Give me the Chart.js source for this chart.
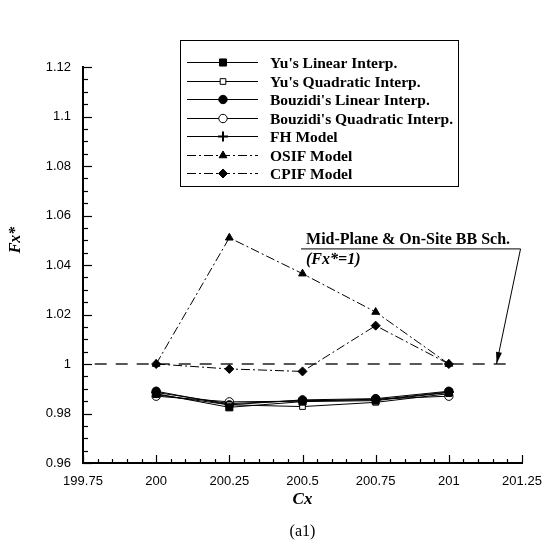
<!DOCTYPE html>
<html lang="en">
<head>
    <meta charset="UTF-8">
    <title>Fx* vs Cx</title>
    <style>
        body { margin: 0; background: #fff; }
        #fxChart { display: block; }
    </style>
</head>
<body>
    <canvas id="fxChart" width="548" height="546"></canvas>

    <script src="https://cdn.jsdelivr.net/npm/chart.js"></script>
    <script>
        // Cx positions and Fx* values for each scheme
        const cx = [200, 200.25, 200.5, 200.75, 201];
        const yuLinear = [0.988, 0.9825, 0.9848, 0.9852, 0.9885];
        const yuQuadratic = [0.9876, 0.9835, 0.9828, 0.9845, 0.988];
        const bouzidiLinear = [0.989, 0.9835, 0.9855, 0.986, 0.989];
        const bouzidiQuadratic = [0.987, 0.9847, 0.985, 0.9858, 0.987];
        const fhModel = [0.9885, 0.984, 0.9852, 0.9855, 0.9887];
        const osifModel = [1.0, 1.051, 1.0365, 1.021, 1.0];
        const cpifModel = [1.0, 0.998, 0.997, 1.0155, 1.0];

        const xTicks = [199.75, 200, 200.25, 200.5, 200.75, 201, 201.25];
        const yTicks = [0.96, 0.98, 1, 1.02, 1.04, 1.06, 1.08, 1.1, 1.12];
        const refLineX = [199.79, 201.22];
        const refLineY = 1;

        const legendNames = [
            "Yu's Linear Interp.",
            "Yu's Quadratic Interp.",
            "Bouzidi's Linear Interp.",
            "Bouzidi's Quadratic Interp.",
            "FH Model",
            "OSIF Model",
            "CPIF Model"
        ];

        const dashDot = [9, 3, 2, 3];

        function pts(ys) {
            return cx.map((x, i) => ({ x: x, y: ys[i] }));
        }

        function series(label, ys, style, radius, filled, dash) {
            return {
                label: label,
                data: pts(ys),
                borderColor: '#000',
                borderWidth: 1,
                borderDash: dash || [],
                pointStyle: style,
                pointRadius: radius,
                pointBorderWidth: style === 'cross' ? 2 : 1,
                pointBorderColor: '#000',
                pointBackgroundColor: filled ? '#000' : '#fff',
                fill: false,
                tension: 0
            };
        }

        const datasets = [
            series(legendNames[0], yuLinear, 'rect', 5, true),
            series(legendNames[1], yuQuadratic, 'rect', 4, false),
            series(legendNames[2], bouzidiLinear, 'circle', 4.2, true),
            series(legendNames[3], bouzidiQuadratic, 'circle', 4.2, false),
            series(legendNames[4], fhModel, 'cross', 5, false),
            series(legendNames[5], osifModel, 'triangle', 4.5, true, dashDot),
            series(legendNames[6], cpifModel, 'rectRot', 4.5, true, dashDot),
            {
                label: 'ref',
                data: refLineX.map(x => ({ x: x, y: refLineY })),
                borderColor: '#222',
                borderWidth: 1.6,
                borderDash: [12, 9],
                pointRadius: 0,
                fill: false
            }
        ];

        function fmt(v) {
            return String(+v.toFixed(2));
        }

        // Inward ticks, titles, boxed legend and the Fx*=1 callout
        const decorations = {
            id: 'decorations',
            afterDraw(chart) {
                const ctx = chart.ctx;
                const xs = chart.scales.x;
                const ys = chart.scales.y;
                const area = chart.chartArea;
                ctx.save();
                ctx.strokeStyle = '#000';
                ctx.fillStyle = '#000';

                // x ticks, pointing up into the plot
                ctx.lineWidth = 1.2;
                for (let k = 0; k <= 30; k++) {
                    const v = 199.75 + k * 0.05;
                    const px = Math.round(xs.getPixelForValue(v)) + 0.5;
                    const len = (k % 5 === 0) ? 8 : 4;
                    ctx.beginPath();
                    ctx.moveTo(px, area.bottom);
                    ctx.lineTo(px, area.bottom - len);
                    ctx.stroke();
                }
                // y ticks, pointing right into the plot
                for (let k = 0; k <= 32; k++) {
                    const v = 0.96 + k * 0.005;
                    const py = Math.round(ys.getPixelForValue(v)) + 0.5;
                    const len = (k % 4 === 0) ? 9 : 5;
                    ctx.beginPath();
                    ctx.moveTo(area.left, py);
                    ctx.lineTo(area.left + len, py);
                    ctx.stroke();
                }

                // axis titles and caption
                ctx.textAlign = 'center';
                ctx.textBaseline = 'middle';
                ctx.font = 'italic bold 17px "Liberation Serif"';
                ctx.fillText('Cx', (area.left + area.right) / 2, 500);
                ctx.save();
                ctx.translate(16, 240);
                ctx.rotate(-Math.PI / 2);
                ctx.font = 'italic bold 16px "Liberation Serif"';
                ctx.fillText('Fx*', 0, 0);
                ctx.restore();
                ctx.font = '16px "Liberation Serif"';
                ctx.fillText('(a1)', (area.left + area.right) / 2, 532);

                // legend box
                const lx = 180, ly = 40, lw = 278, lh = 146;
                ctx.lineWidth = 1;
                ctx.strokeRect(lx + 0.5, ly + 0.5, lw, lh);
                ctx.textAlign = 'left';
                ctx.font = 'bold 15.5px "Liberation Serif"';
                for (let i = 0; i < legendNames.length; i++) {
                    const ds = datasets[i];
                    const ry = Math.round(62 + i * 18.5) + 0.5;
                    ctx.save();
                    ctx.lineWidth = 1;
                    ctx.setLineDash(ds.borderDash);
                    ctx.beginPath();
                    ctx.moveTo(187, ry);
                    ctx.lineTo(258, ry);
                    ctx.stroke();
                    ctx.restore();
                    ctx.save();
                    ctx.fillStyle = ds.pointBackgroundColor;
                    ctx.strokeStyle = '#000';
                    ctx.lineWidth = ds.pointBorderWidth;
                    Chart.helpers.drawPoint(ctx, {
                        pointStyle: ds.pointStyle,
                        radius: ds.pointRadius,
                        rotation: 0,
                        borderWidth: ds.pointBorderWidth
                    }, 223, ry);
                    ctx.restore();
                    ctx.fillText(ds.label, 270, ry + 1);
                }

                // callout for the reference line
                const ux0 = xs.getPixelForValue(200.495);
                const ux1 = xs.getPixelForValue(201.245);
                const uy = ys.getPixelForValue(1.0465);
                ctx.font = 'bold 16px "Liberation Serif"';
                ctx.textBaseline = 'alphabetic';
                ctx.fillText('Mid-Plane & On-Site BB Sch.', ux0 + 5, uy - 5);
                ctx.font = 'italic bold 16px "Liberation Serif"';
                ctx.fillText('(Fx*=1)', ux0 + 5, uy + 15);
                ctx.lineWidth = 1;
                ctx.beginPath();
                ctx.moveTo(ux0, uy);
                ctx.lineTo(ux1, uy);
                const tipX = xs.getPixelForValue(201.163);
                const tipY = ys.getPixelForValue(refLineY);
                ctx.lineTo(tipX, tipY);
                ctx.stroke();
                // arrow head
                const ang = Math.atan2(tipY - uy, tipX - ux1);
                const hl = 12, hw = 3;
                ctx.beginPath();
                ctx.moveTo(tipX, tipY);
                ctx.lineTo(tipX - hl * Math.cos(ang) + hw * Math.sin(ang), tipY - hl * Math.sin(ang) - hw * Math.cos(ang));
                ctx.lineTo(tipX - hl * Math.cos(ang) - hw * Math.sin(ang), tipY - hl * Math.sin(ang) + hw * Math.cos(ang));
                ctx.closePath();
                ctx.fill();
                ctx.restore();
            }
        };

        const fxChart = new Chart(document.getElementById('fxChart').getContext('2d'), {
            type: 'line',
            data: { datasets: datasets },
            options: {
                responsive: false,
                animation: false,
                layout: { padding: { left: 0, top: 67, right: 26, bottom: 0 } },
                plugins: {
                    legend: { display: false },
                    tooltip: { enabled: false }
                },
                scales: {
                    x: {
                        type: 'linear',
                        min: 199.75,
                        max: 201.25,
                        afterBuildTicks(scale) {
                            scale.ticks = xTicks.map(v => ({ value: v }));
                        },
                        ticks: {
                            callback: v => fmt(v),
                            color: '#000',
                            padding: 11,
                            maxRotation: 0,
                            autoSkip: false,
                            font: { family: '"Liberation Sans"', size: 13 }
                        },
                        grid: { display: false, drawTicks: false },
                        border: { display: true, color: '#000', width: 2 },
                        afterFit(scale) {
                            scale.height = 83;
                            scale.paddingLeft = 0;
                            scale.paddingRight = 0;
                        }
                    },
                    y: {
                        type: 'linear',
                        min: 0.96,
                        max: 1.12,
                        afterBuildTicks(scale) {
                            scale.ticks = yTicks.map(v => ({ value: v }));
                        },
                        ticks: {
                            callback: v => fmt(v),
                            color: '#000',
                            padding: 12,
                            autoSkip: false,
                            font: { family: '"Liberation Sans"', size: 13 }
                        },
                        grid: { display: false, drawTicks: false },
                        border: { display: true, color: '#000', width: 2 },
                        afterFit(scale) {
                            scale.width = 83;
                            scale.paddingTop = 0;
                            scale.paddingBottom = 0;
                        }
                    }
                }
            },
            plugins: [decorations]
        });
    </script>
</body>
</html>
